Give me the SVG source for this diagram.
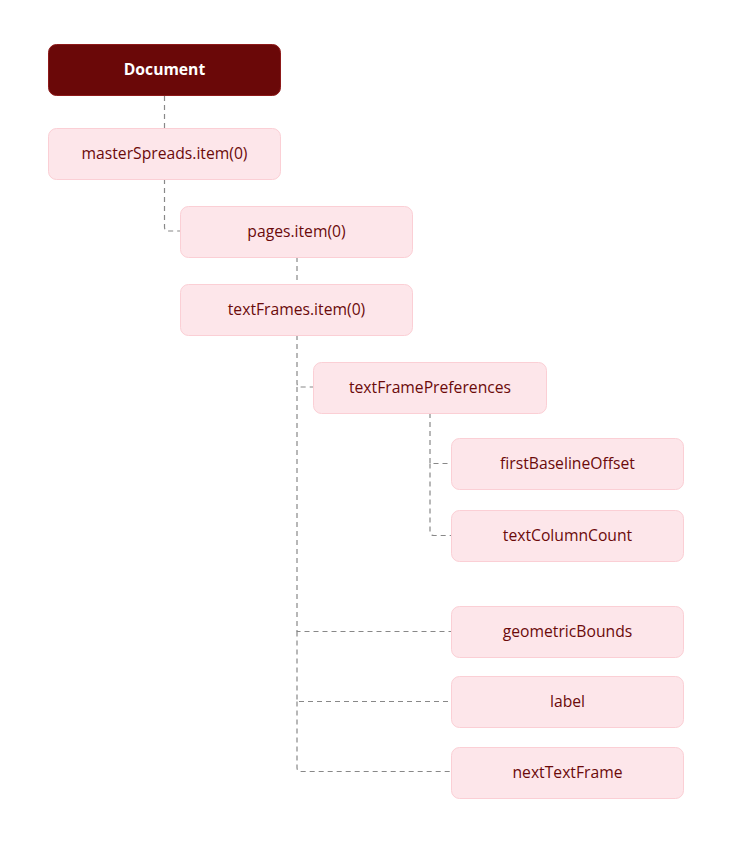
<svg xmlns="http://www.w3.org/2000/svg" width="750" height="843" viewBox="0 0 750 843">
<style>
.n rect{fill:#fde6ea;stroke:#fbcfd5;stroke-width:1}
.n text{font-family:"Open Sans","Noto Sans",sans-serif;font-size:15.7px;fill:#6b0a0a;text-anchor:middle;dominant-baseline:central}
.root rect{fill:#6a0808;stroke:#8e1a1a}
.root text{fill:#ffffff;font-weight:bold}
.c path{fill:none;stroke:#888888;stroke-width:1.2;stroke-dasharray:5 4}
</style>
<rect width="750" height="843" fill="#ffffff"/>
<g class="c">
<path d="M164.5 96 V128"/>
<path d="M164.5 179 V227 Q164.5 231 168.5 231 H180"/>
<path d="M297 257 V284"/>
<path d="M297 335 V383 Q297 387 301 387 H313"/>
<path d="M430 413 V463.5 H451"/>
<path d="M430 463.5 V531.5 Q430 535.5 434 535.5 H451"/>
<path d="M297 387 V631.5 H451"/>
<path d="M297 631.5 V701.5 H451"/>
<path d="M297 701.5 V767.5 Q297 771.5 301 771.5 H451"/>
</g>
<g id="document" class="n root"><rect x="48.5" y="44.5" width="232" height="51" rx="8"/><text x="164.5" y="68.5">Document</text></g>
<g id="masterSpreads" class="n"><rect x="48.5" y="128.5" width="232" height="51" rx="8"/><text x="164.5" y="152.5">masterSpreads.item(0)</text></g>
<g id="pages" class="n"><rect x="180.5" y="206.5" width="232" height="51" rx="8"/><text x="296.5" y="230.5">pages.item(0)</text></g>
<g id="textFrames" class="n"><rect x="180.5" y="284.5" width="232" height="51" rx="8"/><text x="296.5" y="308.5">textFrames.item(0)</text></g>
<g id="textFramePreferences" class="n"><rect x="313.5" y="362.5" width="233" height="51" rx="8"/><text x="430" y="386.5">textFramePreferences</text></g>
<g id="firstBaselineOffset" class="n"><rect x="451.5" y="438.5" width="232" height="51" rx="8"/><text x="567.5" y="462.5">firstBaselineOffset</text></g>
<g id="textColumnCount" class="n"><rect x="451.5" y="510.5" width="232" height="51" rx="8"/><text x="567.5" y="534.5">textColumnCount</text></g>
<g id="geometricBounds" class="n"><rect x="451.5" y="606.5" width="232" height="51" rx="8"/><text x="567.5" y="630.5">geometricBounds</text></g>
<g id="label" class="n"><rect x="451.5" y="676.5" width="232" height="51" rx="8"/><text x="567.5" y="700.5">label</text></g>
<g id="nextTextFrame" class="n"><rect x="451.5" y="747.5" width="232" height="51" rx="8"/><text x="567.5" y="771.5">nextTextFrame</text></g>
</svg>
